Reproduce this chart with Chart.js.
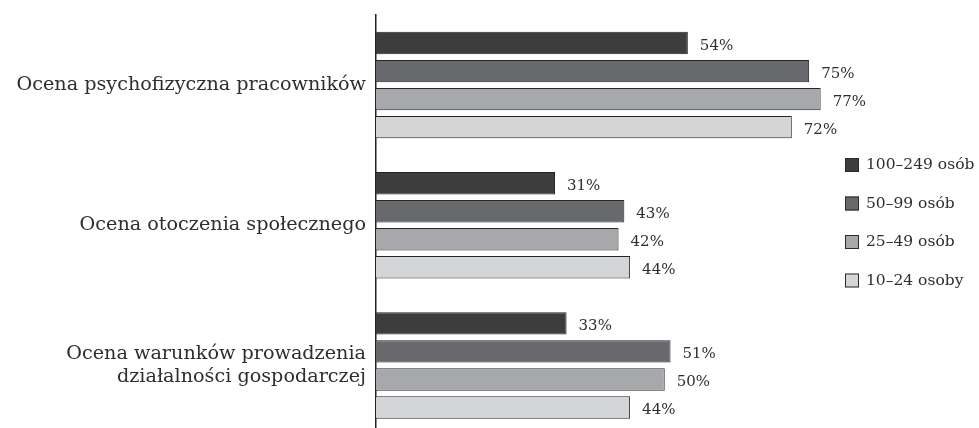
<!DOCTYPE html>
<html lang="pl">
<head>
    <meta charset="UTF-8" />
    <title>Ocena - wykres</title>
    <script src="https://cdn.jsdelivr.net/npm/chart.js"></script>
    <style>
        html, body {
            margin: 0;
            padding: 0;
            background: #fff;
            overflow: hidden;
        }
        #wrap {
            width: 979px;
            height: 459px;
            margin-top: -10px;
        }
    </style>
</head>
<body>
    <div id="wrap"><canvas id="chart"></canvas></div>

    <script>
        const categories = [
            "Ocena psychofizyczna pracowników",
            "Ocena otoczenia społecznego",
            ["Ocena warunków prowadzenia", "działalności gospodarczej"]
        ];
        const seriesNames = ["100–249 osób", "50–99 osób", "25–49 osób", "10–24 osoby"];
        const s100_249 = [54, 31, 33];
        const s50_99 = [75, 43, 51];
        const s25_49 = [77, 42, 50];
        const s10_24 = [72, 44, 44];
        const colors = ["#3d3d3e", "#68696c", "#a7a8ab", "#d4d5d7"];

        const FONT = "'DejaVu Serif', 'Liberation Serif', serif";
        const TEXT = "#2e2e2e";

        // value labels next to bar ends
        const valueLabels = {
            id: "valueLabels",
            afterDatasetsDraw(chart) {
                const ctx = chart.ctx;
                ctx.save();
                ctx.font = "15px " + FONT;
                ctx.fillStyle = TEXT;
                ctx.textBaseline = "middle";
                chart.data.datasets.forEach((ds, i) => {
                    chart.getDatasetMeta(i).data.forEach((bar, j) => {
                        ctx.fillText(ds.data[j] + "%", bar.x + 12, bar.y + 3);
                    });
                });
                ctx.restore();
            }
        };

        // legend on the right, stacked (canvas is shifted up 10px)
        const sideLegend = {
            id: "sideLegend",
            afterDraw(chart) {
                const ctx = chart.ctx;
                ctx.save();
                ctx.font = "15.5px " + FONT;
                ctx.textBaseline = "middle";
                chart.data.datasets.forEach((ds, i) => {
                    const y = 175 + i * 38.5;
                    ctx.fillStyle = ds.backgroundColor;
                    ctx.fillRect(845, y - 7, 14, 14);
                    ctx.strokeStyle = "#2b2b2b";
                    ctx.lineWidth = 1;
                    ctx.strokeRect(845.5, y - 6.5, 13, 13);
                    ctx.fillStyle = TEXT;
                    ctx.fillText(ds.label, 866, y);
                });
                ctx.restore();
            }
        };

        const seriesData = [s100_249, s50_99, s25_49, s10_24];

        new Chart(document.getElementById("chart"), {
            type: "bar",
            data: {
                labels: categories,
                datasets: seriesData.map((d, i) => ({
                    label: seriesNames[i],
                    data: d,
                    backgroundColor: colors[i],
                    borderColor: "#262626",
                    borderWidth: 1,
                    categoryPercentage: 0.8,
                    barPercentage: 0.8
                }))
            },
            options: {
                indexAxis: "y",
                responsive: true,
                maintainAspectRatio: false,
                animation: false,
                layout: {
                    padding: { top: 0, bottom: 5, left: 0, right: 141 }
                },
                plugins: {
                    legend: { display: false },
                    tooltip: { enabled: false }
                },
                scales: {
                    x: {
                        display: false,
                        min: 0,
                        max: 80
                    },
                    y: {
                        afterFit(scale) {
                            scale.width = 376;
                        },
                        grid: { display: false },
                        border: { display: true, color: "#222", width: 1.5 },
                        ticks: {
                            color: TEXT,
                            padding: 2,
                            font: { family: FONT, size: 19.2 }
                        }
                    }
                }
            },
            plugins: [valueLabels, sideLegend]
        });
    </script>
</body>
</html>
